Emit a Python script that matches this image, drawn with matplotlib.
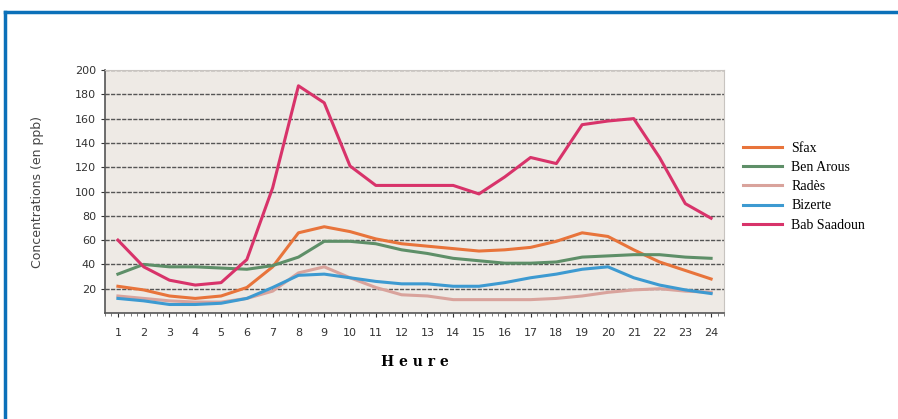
import matplotlib
matplotlib.use('Agg')
import matplotlib.pyplot as plt
from matplotlib.lines import Line2D
from matplotlib.ticker import MultipleLocator

hours = list(range(1, 25))

sfax = [22, 19, 14, 12, 14, 21, 38, 66, 71, 67, 61, 57, 55, 53, 51, 52, 54, 59, 66, 63, 52, 42, 35, 28]
ben_arous = [32, 40, 38, 38, 37, 36, 39, 46, 59, 59, 57, 52, 49, 45, 43, 41, 41, 42, 46, 47, 48, 48, 46, 45]
rades = [14, 12, 10, 9, 9, 12, 18, 33, 38, 29, 21, 15, 14, 11, 11, 11, 11, 12, 14, 17, 19, 20, 18, 17]
bizerte = [12, 10, 7, 7, 8, 12, 21, 31, 32, 29, 26, 24, 24, 22, 22, 25, 29, 32, 36, 38, 29, 23, 19, 16]
bab_saadoun = [60, 38, 27, 23, 25, 44, 103, 187, 173, 121, 105, 105, 105, 105, 98, 112, 128, 123, 155, 158, 160, 128, 90, 78]

series_names = ['Sfax', 'Ben Arous', 'Radès', 'Bizerte', 'Bab Saadoun']
series_colors = ['#e8743b', '#5e8f68', '#d9a39c', '#3d9ad1', '#d8336a']

fig = plt.figure(figsize=(8.98, 4.19), dpi=100)
ax = fig.add_axes([105 / 898, 1 - 313 / 419, 619 / 898, 243 / 419])
ax.set_facecolor('#eeeae5')

all_series = [sfax, ben_arous, rades, bizerte, bab_saadoun]
for name, vals, col in zip(series_names, all_series, series_colors):
    ax.plot(hours, vals, color=col, lw=2.2, label=name)

ax.set_xlim(0.5, 24.5)
ax.set_ylim(0, 200)
ax.set_xticks(hours)
ax.set_yticks(range(20, 201, 20))
ax.xaxis.set_minor_locator(MultipleLocator(0.25))
ax.tick_params(axis='both', labelsize=8, colors='#333333', length=3, width=0.8)
ax.tick_params(axis='x', which='minor', length=2, color='#666666')
ax.tick_params(axis='x', pad=8)
ax.grid(axis='y', color='#555555', lw=1.0, ls=(0, (3, 1)))
ax.set_axisbelow(True)

for side in ['left', 'bottom']:
    ax.spines[side].set_color('#555555')
    ax.spines[side].set_linewidth(1.2)
for side in ['top', 'right']:
    ax.spines[side].set_color('#c8c4c0')
    ax.spines[side].set_linewidth(0.8)

ax.set_ylabel('Concentrations (en ppb)', fontsize=9, color='#444444', labelpad=22)
ax.set_xlabel('H e u r e', fontsize=10, fontweight='bold', family='DejaVu Serif', labelpad=12)

leg = ax.legend(loc='center left', bbox_to_anchor=(1.01, 0.52), frameon=False,
                prop={'family': 'Liberation Serif', 'size': 10}, handlelength=2.8,
                labelspacing=0.45, handletextpad=0.7)

# blue frame (top and left edges)
fig.add_artist(Line2D([4.5 / 898, 1], [1 - 12 / 419, 1 - 12 / 419], color='#0b70b9', lw=2.5))
fig.add_artist(Line2D([4.5 / 898, 4.5 / 898], [0, 1 - 12 / 419], color='#0b70b9', lw=2.5))

fig.savefig('out.png', dpi=100)
